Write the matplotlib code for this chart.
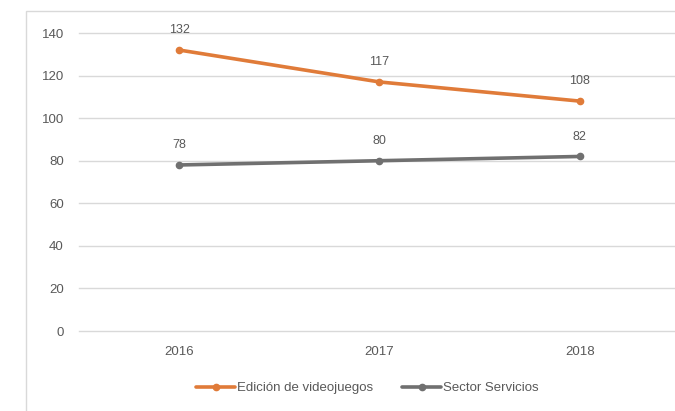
import matplotlib
matplotlib.use("Agg")
import matplotlib.pyplot as plt
from matplotlib.patches import Rectangle

years = ["2016", "2017", "2018"]
videojuegos = [132, 117, 108]
servicios = [78, 80, 82]
series_names = ["Edición de videojuegos", "Sector Servicios"]
yticks = [0, 20, 40, 60, 80, 100, 120, 140]

plt.rcParams['font.family'] = ['Liberation Sans', 'DejaVu Sans']
fig = plt.figure(figsize=(6.75, 4.11), dpi=100)
fig.patch.set_facecolor('white')

# outer chart border
fig.add_artist(Rectangle((26/675, -0.1), 1.0, 0.1 + (1 - 11/411), transform=fig.transFigure,
                         fill=False, edgecolor='#d9d9d9', linewidth=1.0))

ax = fig.add_axes([79/675, (411-331)/411, 601/675, 298/411])
x = list(range(len(years)))
c1 = '#e07b39'
c2 = '#707070'
ax.plot(x, videojuegos, color=c1, linewidth=2.6, marker='o', markersize=4.5, label=series_names[0], solid_capstyle='round')
ax.plot(x, servicios, color=c2, linewidth=2.6, marker='o', markersize=4.5, label=series_names[1], solid_capstyle='round')

for xi, v in zip(x, videojuegos):
    ax.annotate(str(v), (xi, v), textcoords='offset points', xytext=(0, 10), ha='center', va='bottom',
                fontsize=9, color='#595959')
for xi, v in zip(x, servicios):
    ax.annotate(str(v), (xi, v), textcoords='offset points', xytext=(0, 10), ha='center', va='bottom',
                fontsize=9, color='#595959')

ax.set_xlim(-0.5, 2.5)
ax.set_ylim(0, 140)
ax.set_yticks(yticks)
ax.set_xticks(x)
ax.set_xticklabels(years)
ax.yaxis.grid(True, color='#d9d9d9', linewidth=1)
for gl in ax.get_ygridlines():
    gl.set_clip_on(False)
ax.set_axisbelow(True)
for s in ax.spines.values():
    s.set_visible(False)
ax.tick_params(axis='both', length=0, labelsize=9.5, labelcolor='#595959')
ax.tick_params(axis='y', pad=11)
ax.tick_params(axis='x', pad=11)
ax.set_facecolor('none')

leg = fig.legend(loc='center', bbox_to_anchor=(367/675, 1 - 388/411), ncol=2, frameon=False,
                 fontsize=9.5, labelcolor='#595959', handlelength=3.0, handletextpad=0.1, columnspacing=2.2)

fig.savefig('out.png', dpi=100, facecolor='white')
